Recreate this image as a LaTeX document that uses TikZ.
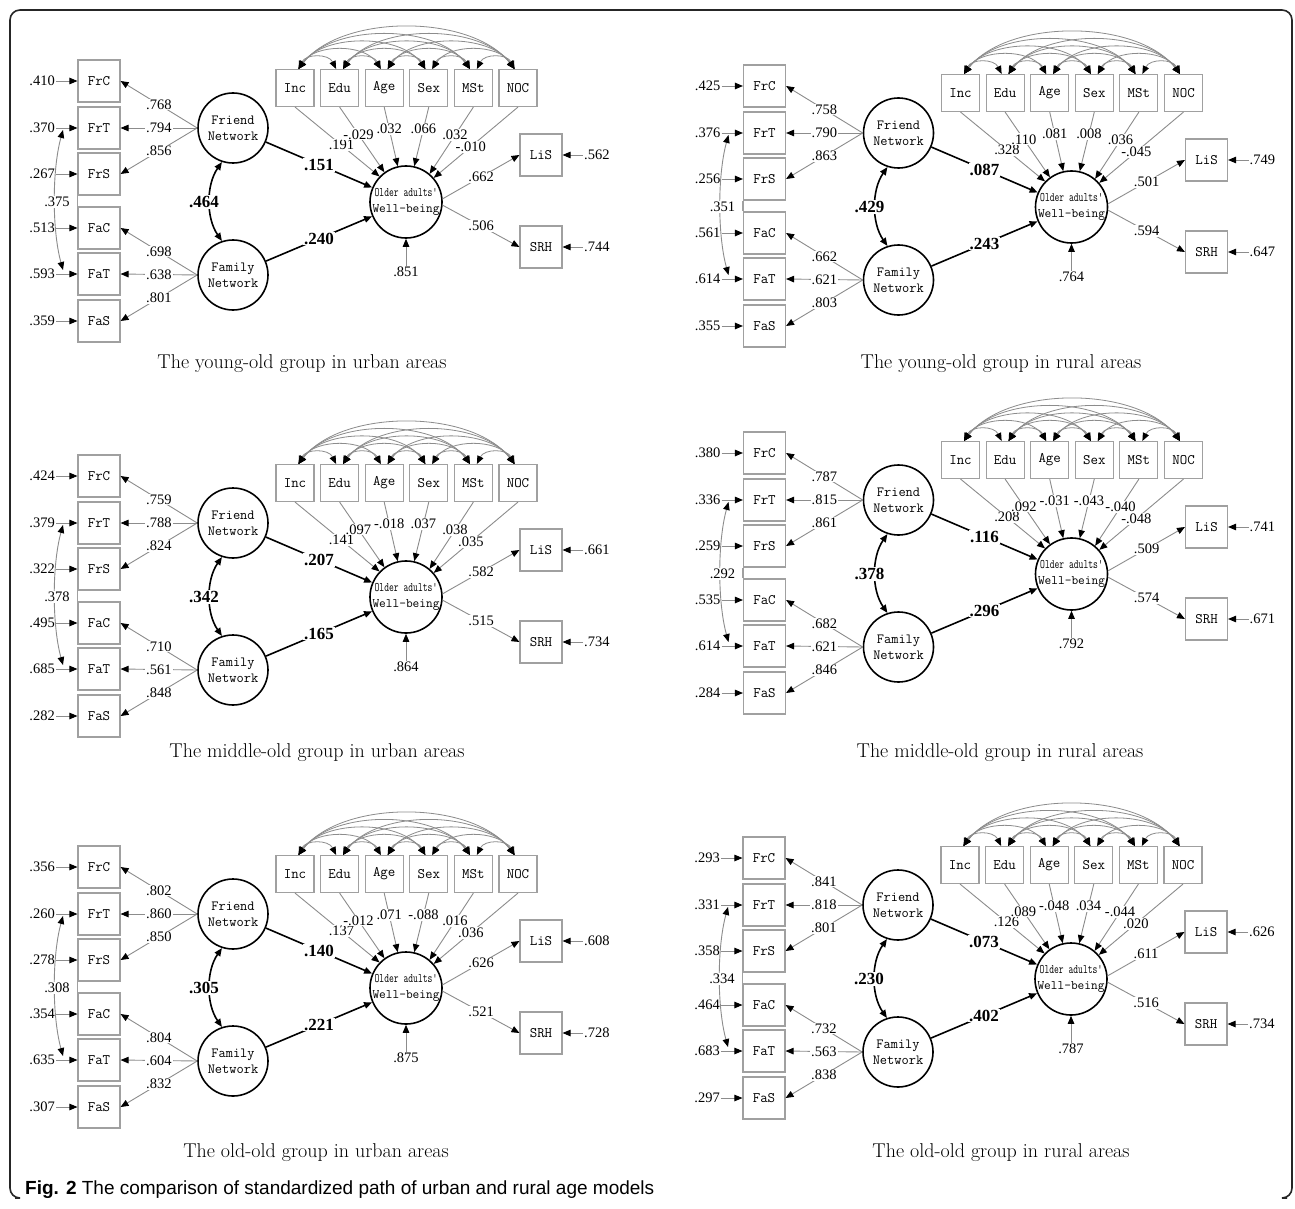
\documentclass[tikz,border=0pt]{standalone}
\usepackage{fontspec}
\usepackage{graphicx}
\newfontfamily\numfont{Liberation Serif}
\newfontfamily\figsans{Liberation Sans}
\usetikzlibrary{arrows.meta}
\definecolor{boxgray}{HTML}{A0A0A0}
\definecolor{linegray}{HTML}{8C8C8C}
\tikzset{
  >={Triangle[length=8pt,width=6.5pt,color=black]},
  gline/.style={draw=linegray, line width=0.9pt},
  bline/.style={draw=black, line width=1.6pt},
  arcline/.style={draw=linegray, line width=0.8pt},
  obs/.style={draw=boxgray, line width=1.1pt, fill=white, minimum width=42pt, minimum height=42pt, inner sep=0pt, font=\ttfamily\fontsize{14.5}{16}\selectfont},
  covbox/.style={obs, minimum width=38pt, minimum height=37pt},
  lat/.style={circle, draw=black, line width=1.6pt, fill=white, minimum size=70pt, inner sep=0pt, align=center, font=\ttfamily\fontsize{14}{16}\selectfont},
  num/.style={font=\numfont\fontsize{14.5}{16}\selectfont, inner sep=1pt},
  wnum/.style={num, fill=white},
  bnum/.style={font=\numfont\bfseries\fontsize{17}{19}\selectfont, inner sep=1pt, fill=white},
  captext/.style={font=\fontsize{20}{24}\selectfont, inner sep=0pt}
}
\def\sempE#1,#2,#3,#4,#5,#6\relax{\def\svEa{#1}\def\svEb{#2}\def\svEc{#3}\def\svEd{#4}\def\svEe{#5}\def\svEf{#6}}
\def\sempL#1,#2,#3,#4,#5,#6\relax{\def\svLa{#1}\def\svLb{#2}\def\svLc{#3}\def\svLd{#4}\def\svLe{#5}\def\svLf{#6}}
\def\sempX#1,#2,#3,#4\relax{\def\svXa{#1}\def\svXb{#2}\def\svXc{#3}\def\svXd{#4}}
\def\sempC#1,#2,#3,#4,#5,#6\relax{\def\svCa{#1}\def\svCb{#2}\def\svCc{#3}\def\svCd{#4}\def\svCe{#5}\def\svCf{#6}}
\def\sempW#1,#2,#3,#4,#5\relax{\def\svWa{#1}\def\svWb{#2}\def\svWc{#3}\def\svWd{#4}\def\svWe{#5}}
\newcommand\sempanel[7]{%
  \sempE#3\relax\sempL#4\relax\sempX#5\relax\sempC#6\relax\sempW#7\relax
  \begin{scope}[shift={#2}]
    % indicator boxes
    \node[obs] (#1FrC) at (99,81) {FrC};
    \node[obs] (#1FrT) at (99,128) {FrT};
    \node[obs] (#1FrS) at (99,174) {FrS};
    \node[obs] (#1FaC) at (99,228) {FaC};
    \node[obs] (#1FaT) at (99,274) {FaT};
    \node[obs] (#1FaS) at (99,321) {FaS};
    \draw[draw=boxgray, line width=1.1pt] (#1FrS.south west) -- (#1FaC.north west);
    % error terms
    \node[num, anchor=east] (#1eFrC) at (56,81) {\svEa};
    \node[num, anchor=east] (#1eFrT) at (56,128) {\svEb};
    \node[num, anchor=east] (#1eFrS) at (56,174) {\svEc};
    \node[num, anchor=east] (#1eFaC) at (56,228) {\svEd};
    \node[num, anchor=east] (#1eFaT) at (56,274) {\svEe};
    \node[num, anchor=east] (#1eFaS) at (56,321) {\svEf};
    \foreach \n in {FrC,FrT,FrS,FaC,FaT,FaS}{\draw[gline,->] (#1e\n.east) -- (#1\n.west);}
    \coordinate (#1cu) at (63,130);
    \coordinate (#1cd) at (63,270);
    \draw[gline,<->] (#1cu) .. controls (52,170) and (52,230) .. (#1cd);
    \node[wnum] (#1ec) at (57,202) {\svXa};
    % latent factors
    \node[lat] (#1Fr) at (233,128) {Friend\\Network};
    \node[lat] (#1Fa) at (233,275) {Family\\Network};
    \node[lat, font=\ttfamily\fontsize{13}{16}\selectfont] (#1WB) at (406,202) {\scalebox{0.72}[1]{Older adults'}\\Well-being};
    \draw[bline,<->] (#1Fr.252) .. controls (206,185) and (206,218) .. (#1Fa.108);
    \node[bnum] (#1lc) at (204,202) {\svXb};
    % loadings
    \draw[gline,->] (#1Fr.west) -- node[wnum]{\svLa} (#1FrC.east);
    \draw[gline,->] (#1Fr.west) -- node[wnum]{\svLb} (#1FrT.east);
    \draw[gline,->] (#1Fr.west) -- node[wnum]{\svLc} (#1FrS.east);
    \draw[gline,->] (#1Fa.west) -- node[wnum]{\svLd} (#1FaC.east);
    \draw[gline,->] (#1Fa.west) -- node[wnum]{\svLe} (#1FaT.east);
    \draw[gline,->] (#1Fa.west) -- node[wnum]{\svLf} (#1FaS.east);
    % structural paths
    \draw[bline,->] (#1Fr) -- node[bnum]{\svXc} (#1WB);
    \draw[bline,->] (#1Fa) -- node[bnum]{\svXd} (#1WB);
    % covariates
    \node[covbox] (#1Inc) at (295,88) {Inc};
    \node[covbox] (#1Edu) at (339.6,88) {Edu};
    \node[covbox] (#1Age) at (384.2,88) {Age};
    \node[covbox] (#1Sex) at (428.8,88) {Sex};
    \node[covbox] (#1MSt) at (473.4,88) {MSt};
    \node[covbox] (#1NOC) at (518,88) {NOC};
    \foreach \a/\b/\k in {Inc/Edu/1,Inc/Age/2,Inc/Sex/3,Inc/MSt/4,Inc/NOC/5,Edu/Age/1,Edu/Sex/2,Edu/MSt/3,Edu/NOC/4,Age/Sex/1,Age/MSt/2,Age/NOC/3,Sex/MSt/1,Sex/NOC/2,MSt/NOC/1}{%
      \pgfmathsetmacro\svL{44.6*\k-7}%
      \pgfmathsetmacro\svH{(7.5*\k+4)/0.75}%
      \pgfmathsetmacro\svD{0.2*\svL}%
      \draw[arcline,<->] ([xshift=3.5pt]#1\a.north) .. controls +(\svD,-\svH) and +(-\svD,-\svH) .. ([xshift=-3.5pt]#1\b.north);
    }
    \draw[gline,->] (#1Inc.south) -- node[wnum,pos=0.55]{\svCa} (#1WB.136);
    \draw[gline,->] (#1Edu.south) -- node[wnum,pos=0.42]{\svCb} (#1WB.126);
    \draw[gline,->] (#1Age.south) -- node[wnum,pos=0.37]{\svCc} (#1WB.103);
    \draw[gline,->] (#1Sex.south) -- node[wnum,pos=0.37]{\svCd} (#1WB.77);
    \draw[gline,->] (#1MSt.south) -- node[wnum,pos=0.42]{\svCe} (#1WB.50);
    \draw[gline,->] (#1NOC.south) -- node[wnum,pos=0.56]{\svCf} (#1WB.41);
    % well-being indicators
    \node[obs] (#1LiS) at (541,155) {LiS};
    \node[obs] (#1SRH) at (541,247) {SRH};
    \draw[gline,->] (#1WB.5) -- node[wnum]{\svWa} (#1LiS.west);
    \draw[gline,->] (#1WB.-5) -- node[wnum]{\svWb} (#1SRH.west);
    \node[num, anchor=west] (#1eLiS) at (583,155) {\svWc};
    \node[num, anchor=west] (#1eSRH) at (583,247) {\svWd};
    \draw[gline,->] (#1eLiS.west) -- (#1LiS.east);
    \draw[gline,->] (#1eSRH.west) -- (#1SRH.east);
    \node[num] (#1eWB) at (406,272) {\svWe};
    \draw[gline,->] (#1eWB.north) -- (#1WB.south);
  \end{scope}}
\begin{document}
\begin{tikzpicture}[x=1pt,y=-1pt]
  \useasboundingbox (0,0) rectangle (1295,1209);
  \fill[white] (0,0) rectangle (1295,1209);
  \draw[line width=1.6pt, draw=black!85, rounded corners=10pt] (15,1198) -- (10,1198) -- (10,10) -- (1292,10) -- (1292,1198) -- (1287,1198);

  \sempanel{A}{(0,0)}{.410,.370,.267,.513,.593,.359}{.768,.794,.856,.698,.638,.801}{.375,.464,.151,.240}{.191,-.029,.032,.066,.032,-.010}{.662,.506,.562,.744,.851}
  \sempanel{B}{(665.5,5)}{.425,.376,.256,.561,.614,.355}{.758,.790,.863,.662,.621,.803}{.351,.429,.087,.243}{.328,.110,.081,.008,.036,-.045}{.501,.594,.749,.647,.764}
  \sempanel{C}{(0,395)}{.424,.379,.322,.495,.685,.282}{.759,.788,.824,.710,.561,.848}{.378,.342,.207,.165}{.141,.097,-.018,.037,.038,.035}{.582,.515,.661,.734,.864}
  \sempanel{D}{(665.5,372)}{.380,.336,.259,.535,.614,.284}{.787,.815,.861,.682,.621,.846}{.292,.378,.116,.296}{.208,.092,-.031,-.043,-.040,-.048}{.509,.574,.741,.671,.792}
  \sempanel{E}{(0,786)}{.356,.260,.278,.354,.635,.307}{.802,.860,.850,.804,.604,.832}{.308,.305,.140,.221}{.137,-.012,.071,-.088,.016,.036}{.626,.521,.608,.728,.875}
  \sempanel{F}{(665,777)}{.293,.331,.358,.464,.683,.297}{.841,.818,.801,.732,.563,.838}{.334,.230,.073,.402}{.126,.089,-.048,.034,-.044,.020}{.611,.516,.626,.734,.787}

  \node[captext] (capA) at (302,364) {The young-old group in urban areas};
  \node[captext] (capB) at (1001,364) {The young-old group in rural areas};
  \node[captext] (capC) at (317,753) {The middle-old group in urban areas};
  \node[captext] (capD) at (1000,753) {The middle-old group in rural areas};
  \node[captext] (capE) at (316,1153) {The old-old group in urban areas};
  \node[captext] (capF) at (1001,1153) {The old-old group in rural areas};
  \node[anchor=west, inner sep=0pt, font=\figsans\fontsize{19}{22}\selectfont] (figcap) at (25,1190) {\textbf{Fig. 2} The comparison of standardized path of urban and rural age models};
\end{tikzpicture}
\end{document}
